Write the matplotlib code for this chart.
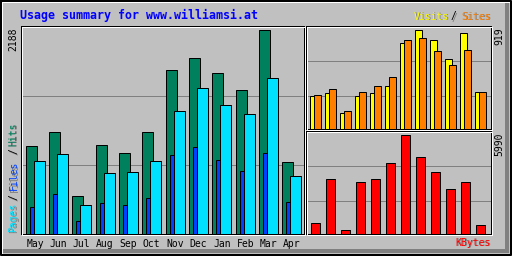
import matplotlib
matplotlib.use("Agg")
import matplotlib.pyplot as plt
from matplotlib.lines import Line2D
from matplotlib.patches import Polygon
from matplotlib.transforms import Affine2D

# monthly usage
months = ["May", "Jun", "Jul", "Aug", "Sep", "Oct", "Nov", "Dec", "Jan", "Feb", "Mar", "Apr"]
hits = [939, 1090, 401, 950, 864, 1090, 1757, 1887, 1725, 1542, 2188, 767]
files = [282, 422, 131, 325, 304, 379, 842, 928, 788, 670, 864, 336]
pages = [777, 853, 304, 648, 659, 777, 1316, 1563, 1380, 1284, 1671, 616]
visits = [303, 331, 144, 303, 331, 396, 798, 919, 826, 648, 891, 340]
sites = [312, 368, 163, 340, 396, 480, 826, 844, 723, 592, 732, 340]
kbytes = [633, 3311, 207, 3129, 3311, 4285, 5990, 4651, 3737, 2703, 3129, 511]

title = "Usage summary for www.williamsi.at"

BG = "#C0C0C0"
DKGREY = "#808080"
HITCOLOR = "#00805C"
FILECOLOR = "#0040FF"
PAGECOLOR = "#00E0FF"
VISITCOLOR = "#FFFF00"
SITECOLOR = "#FF8000"
KBYTECOLOR = "#FF0000"
MONO = "DejaVu Sans Mono"
PX = 0.72  # one pixel in points at 100 dpi

W, H = 512, 256
fig = plt.figure(figsize=(W / 100, H / 100), dpi=100, facecolor=BG)
# pixel coordinates, y going down
pix = Affine2D().scale(1 / W, -1 / H).translate(0, 1) + fig.transFigure

# outer frame with bevel
fig.add_artist(Polygon([[W - 7, 2], [W - 3, 2], [W - 3, H - 3], [2, H - 3], [2, H - 7], [W - 7, H - 7]],
                       closed=True, facecolor=DKGREY, edgecolor="none", transform=pix))
fig.add_artist(Line2D([1.5, 1.5, W - 2.5], [H - 2.5, 1.5, 1.5], color="white", lw=PX, transform=pix))
fig.add_artist(Line2D([0.5, W - 1, W - 1, 0.5, 0.5], [0.5, 0.5, H - 1, H - 1, 0.5],
                      color="black", lw=2 * PX, transform=pix))


def panel(x0, y0, x1, y1, grid):
    ax = fig.add_axes([(x0 + .5) / W, 1 - (y1 + .5) / H, (x1 - x0) / W, (y1 - y0) / H])
    ax.set_facecolor(BG)
    for s in ax.spines.values():
        s.set_color("black")
        s.set_linewidth(PX)
    fig.add_artist(Line2D([x0 + 1.5, x1 + 1.5, x1 + 1.5, x0 + 1.5, x0 + 1.5],
                          [y0 + 1.5, y0 + 1.5, y1 + 1.5, y1 + 1.5, y0 + 1.5],
                          color="white", lw=PX, transform=pix))
    for g in grid:
        ax.plot([0, 1], [g, g], color=DKGREY, lw=PX, transform=ax.transAxes, zorder=0.5)
    ax.set_yticks([])
    ax.tick_params(length=0)
    return ax


x = list(range(len(months)))

# left panel: hits / files / pages
u = 23.36
ax = panel(20, 25, 303, 233, [0.327, 0.663])
ax.bar(x, hits, width=11 / u, align="edge", color=HITCOLOR, edgecolor="black", lw=PX)
ax.bar([i + 4 / u for i in x], files, width=4 / u, align="edge", color=FILECOLOR, edgecolor="black", lw=PX)
ax.bar([i + 8 / u for i in x], pages, width=11 / u, align="edge", color=PAGECOLOR, edgecolor="black", lw=PX)
ax.set_xlim(-5 / u, -5 / u + 283 / u)
ax.set_ylim(0, max(hits) * 208 / 204)
ax.set_xticks([i + 9.5 / u for i in x], months, family=MONO, fontsize=7, color="black")
ax.tick_params(axis="x", pad=4)

# upper right: visits / sites
u = 15
ax = panel(305, 25, 490, 128, [0.320, 0.660])
ax.bar(x, visits, width=7 / u, align="edge", color=VISITCOLOR, edgecolor="black", lw=PX)
ax.bar([i + 4 / u for i in x], sites, width=7 / u, align="edge", color=SITECOLOR, edgecolor="black", lw=PX)
ax.set_xlim(-4 / u, -4 / u + 185 / u)
ax.set_ylim(0, max(visits) * 103 / 99)
ax.set_xticks([])

# lower right: kbytes
ax = panel(305, 130, 490, 233, [0.320, 0.660])
ax.bar([i + 1 / u for i in x], kbytes, width=9 / u, align="edge", color=KBYTECOLOR, edgecolor="black", lw=PX)
ax.set_xlim(-4 / u, -4 / u + 185 / u)
ax.set_ylim(0, max(kbytes) * 103 / 99)
ax.set_xticks([])


def label(px_x, px_y, s, color, shadow=True, **kw):
    if shadow:
        fig.text(px_x + 1, px_y + 1, s, color=DKGREY, transform=pix, family=MONO, fontsize=7, **kw)
    fig.text(px_x, px_y, s, color=color, transform=pix, family=MONO, fontsize=7, **kw)


fig.text(20, 19.5, title, transform=pix, family=MONO, fontweight="bold", fontsize=8.4,
         color="#0000FF", va="baseline", ha="left")

# left legend, written upwards
label(13.5, 232, "Pages", PAGECOLOR, rotation=90, ha="center", va="bottom")
label(13.5, 200, "/", "black", rotation=90, ha="center", va="bottom")
label(13.5, 190.5, "Files", FILECOLOR, rotation=90, ha="center", va="bottom")
label(13.5, 154, "/", "black", rotation=90, ha="center", va="bottom")
label(13.5, 145.5, "Hits", HITCOLOR, rotation=90, ha="center", va="bottom")

label(13.8, 27.5, str(max(hits)), "black", shadow=False, rotation=90, ha="center", va="top")
label(499.8, 27.5, str(max(visits)), "black", shadow=False, rotation=90, ha="center", va="top")
label(499.8, 132, str(max(kbytes)), "black", shadow=False, rotation=90, ha="center", va="top")

# right legends
label(449, 19.5, "Visits", VISITCOLOR, ha="right", va="baseline")
label(456, 19.5, "/", "black", ha="right", va="baseline")
label(491, 19.5, "Sites", SITECOLOR, ha="right", va="baseline")
label(491, 245.5, "KBytes", KBYTECOLOR, ha="right", va="baseline")

fig.savefig("out.png", dpi=100, facecolor=BG)
